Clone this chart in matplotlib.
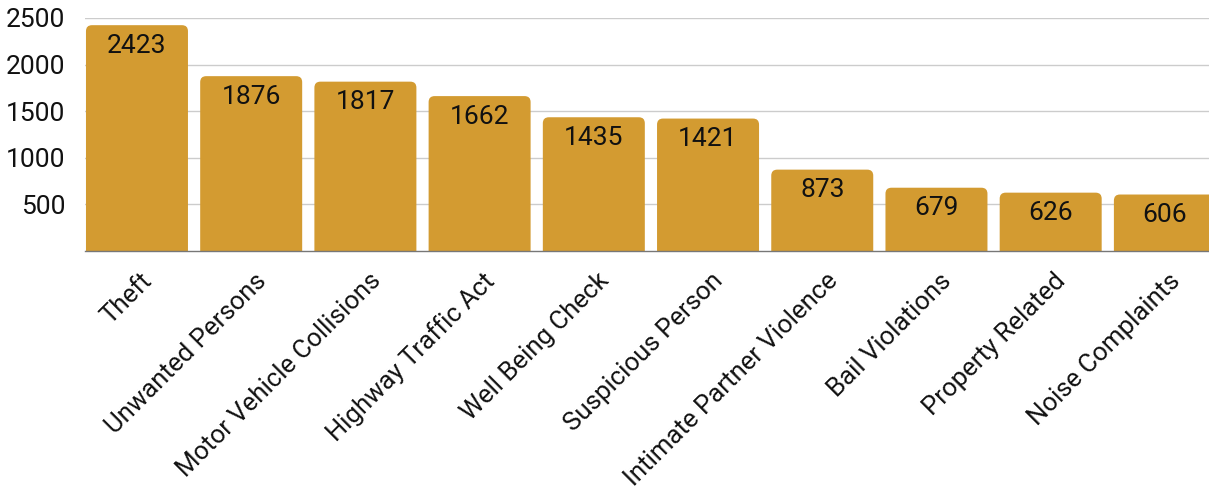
import matplotlib.pyplot as plt
from matplotlib.patches import FancyBboxPatch
import matplotlib.transforms as mtransforms

plt.rcParams['font.family'] = ['Roboto', 'DejaVu Sans']

categories = ['Theft', 'Unwanted Persons', 'Motor Vehicle Collisions', 'Highway Traffic Act',
              'Well Being Check', 'Suspicious Person', 'Intimate Partner Violence',
              'Bail Violations', 'Property Related', 'Noise Complaints']
counts = [2423, 1876, 1817, 1662, 1435, 1421, 873, 679, 626, 606]
yticks = [500, 1000, 1500, 2000, 2500]

bar_color = '#D39B31'

fig = plt.figure(figsize=(12.09, 4.90), dpi=100)
ax = fig.add_axes([85 / 1209, 239 / 490, 1137 / 1209, 233 / 490])

x = list(range(len(categories)))
bars = ax.bar(x, counts, width=0.893, color=bar_color)

ax.set_xlim(-0.455, 9.5)
ax.set_ylim(0, 2500)

# replace plain bars with round-topped ones
px_x = 1137 / (9.5 + 0.455)
px_y = 233 / 2500
aspect = px_x / px_y
r = 6 / px_x
for b in bars:
    b.set_visible(False)
    p = FancyBboxPatch((b.get_x(), -400), b.get_width(), b.get_height() + 400,
                       boxstyle=f'round,pad=0,rounding_size={r}',
                       mutation_aspect=aspect, facecolor=bar_color,
                       edgecolor='none', clip_on=True, zorder=2)
    ax.add_patch(p)

for xi, v in zip(x, counts):
    ax.annotate(str(v), (xi, v), xytext=(0, -20.5), textcoords='offset pixels',
                ha='center', va='center', fontsize=19, color='#111111', zorder=3)

ax.set_yticks(yticks)
ax.set_yticklabels([str(t) for t in yticks], fontsize=19, color='#111111')
ax.grid(axis='y', color='#cccccc', linewidth=1, zorder=0)
ax.set_axisbelow(True)
ax.tick_params(axis='y', length=0, pad=14)
ax.tick_params(axis='x', length=0, pad=4)

ax.set_xticks(x)
ax.set_xticklabels(categories, rotation=45, ha='right', rotation_mode='anchor',
                   fontsize=18.5, color='#111111')
offset = mtransforms.ScaledTranslation(3 / 100, -12 / 100, fig.dpi_scale_trans)
for lbl in ax.get_xticklabels():
    lbl.set_transform(lbl.get_transform() + offset)

for s in ['top', 'right', 'left']:
    ax.spines[s].set_visible(False)
ax.spines['bottom'].set_color('#777777')
ax.spines['bottom'].set_linewidth(1)

fig.savefig('out.png', dpi=100)
